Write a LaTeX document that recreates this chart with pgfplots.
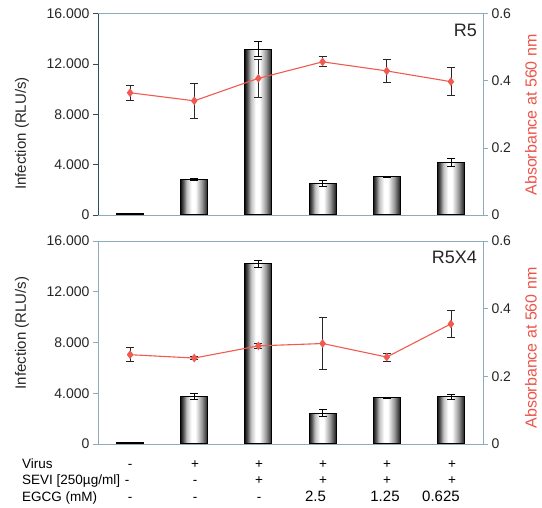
\documentclass[border=0pt]{standalone}
\usepackage{pgfplots}
\pgfplotsset{compat=1.18}
\usepackage{fontspec}
\setmainfont{Liberation Sans}
\definecolor{linered}{RGB}{240,90,80}
\definecolor{framecol}{RGB}{140,172,188}
\definecolor{darkaxis}{RGB}{40,80,95}
\definecolor{labred}{RGB}{235,85,75}
\pgfdeclarehorizontalshading{cyl}{100bp}{color(0bp)=(black!92); color(25bp)=(black!92); color(30bp)=(black!65); color(36bp)=(black!25); color(45bp)=(white); color(52bp)=(white); color(64bp)=(black!40); color(75bp)=(black!90); color(100bp)=(black!90)}
\newcommand{\tf}{\fontsize{14}{16}\selectfont}
\newcommand{\rf}{\fontsize{13.5}{16}\selectfont}
\pgfplotsset{
  baraxis/.style={
    scale only axis, width=385pt,
    xmin=-0.5, xmax=5.5, ymin=0, ymax=16000,
    axis x line*=bottom, axis y line*=left,
    axis line style={framecol, line width=0.8pt},
    xtick=\empty, minor xtick={0.5,1.5,2.5,3.5,4.5},
    ytick={0,4000,8000,12000,16000},
    yticklabels={0,4.000,8.000,12.000,16.000},
    scaled y ticks=false,
    tick align=outside, major tick length=5pt, minor tick length=5pt,
    tick style={framecol, line width=0.6pt},
    ticklabel style={font=\tf, text=black!85},
    /pgf/number format/assume math mode=true,
    clip=false,
  },
  linaxis/.style={
    scale only axis, width=385pt,
    xmin=-0.5, xmax=5.5, ymin=0, ymax=0.6,
    axis y line*=right, axis x line*=top,
    xtick=\empty,
    ytick={0,0.2,0.4,0.6}, yticklabels={0,0.2,0.4,0.6},
    scaled y ticks=false,
    axis line style={framecol, line width=0.8pt},
    tick align=outside, major tick length=5pt,
    tick style={framecol, line width=0.6pt},
    ticklabel style={font=\tf, text=black!85},
    /pgf/number format/assume math mode=true,
    clip=false,
  },
  barplot/.style={ybar, bar width=27pt, bar shift=0pt, draw=black, line width=1pt, shading=cyl,
     error bars/.cd, y dir=both, y explicit,
     error bar style={black, line width=0.8pt},
     error mark options={rotate=90, black, line width=0.8pt, mark size=4pt}},
  lineplot/.style={linered, line width=1.1pt, mark=diamond*, mark size=3.5pt,
     mark options={fill=linered, draw=linered},
     error bars/.cd, y dir=both, y explicit,
     error bar style={black!85, line width=0.8pt},
     error mark options={rotate=90, black!85, line width=0.8pt, mark size=4pt}},
}
\begin{document}
\begin{tikzpicture}[x=1pt,y=1pt]
\path[use as bounding box] (0,0) rectangle (542,-508);
% ---------- top panel (R5) ----------
\begin{axis}[baraxis, at={(98pt,-215pt)}, anchor=south west, height=201.5pt,
  y axis line style={darkaxis}, ytick style={darkaxis}]
\addplot[barplot] coordinates {(0,120) +- (0,0)};
\addplot[barplot] coordinates {(1,2800) +- (0,80)};
\addplot[barplot] coordinates {(2,13180) +- (0,620)};
\addplot[barplot] coordinates {(3,2520) +- (0,250)};
\addplot[barplot] coordinates {(4,3050) +- (0,50)};
\addplot[barplot] coordinates {(5,4150) +- (0,330)};
\end{axis}
\begin{axis}[linaxis, at={(98pt,-215pt)}, anchor=south west, height=201.5pt]
\addplot[lineplot] coordinates {
 (0,0.364) +- (0,0.022)
 (1,0.340) +- (0,0.053)
 (2,0.407) +- (0,0.057)
 (3,0.456) +- (0,0.015)
 (4,0.429) +- (0,0.034)
 (5,0.397) +- (0,0.042)
};
\end{axis}
% ---------- bottom panel (R5X4) ----------
\begin{axis}[baraxis, at={(98pt,-444pt)}, anchor=south west, height=203pt]
\addplot[barplot] coordinates {(0,120) +- (0,0)};
\addplot[barplot] coordinates {(1,3746) +- (0,250)};
\addplot[barplot] coordinates {(2,14190) +- (0,300)};
\addplot[barplot] coordinates {(3,2440) +- (0,260)};
\addplot[barplot] coordinates {(4,3645) +- (0,30)};
\addplot[barplot] coordinates {(5,3746) +- (0,200)};
\end{axis}
\begin{axis}[linaxis, at={(98pt,-444pt)}, anchor=south west, height=203pt]
\addplot[lineplot] coordinates {
 (0,0.264) +- (0,0.021)
 (1,0.254) +- (0,0.004)
 (2,0.290) +- (0,0.006)
 (3,0.297) +- (0,0.076)
 (4,0.257) +- (0,0.012)
 (5,0.355) +- (0,0.040)
};
\end{axis}
% ---------- labels ----------
\node[rotate=90, font=\fontsize{15}{18}\selectfont, text=black!85] at (22,-133.5) {Infection (RLU/s)};
\node[rotate=90, font=\fontsize{15}{18}\selectfont, text=black!85] at (22,-333) {Infection (RLU/s)};
\node[rotate=90, font=\fontsize{16}{18}\selectfont, text=labred] at (531,-115) {Absorbance at 560 nm};
\node[rotate=90, font=\fontsize{16}{18}\selectfont, text=labred] at (531,-348) {Absorbance at 560 nm};
\node[anchor=base east, font=\fontsize{18}{20}\selectfont, text=black!85, inner sep=0pt] at (477,-37) {R5};
\node[anchor=base east, font=\fontsize{18}{20}\selectfont, text=black!85, inner sep=0pt] at (477,-264) {R5X4};
% ---------- table ----------
\node[anchor=base west, font=\rf, inner sep=0pt] at (22,-468) {Virus};
\node[anchor=base west, font=\rf, inner sep=0pt] at (22,-484.7) {SEVI [250µg/ml]};
\node[anchor=base west, font=\rf, inner sep=0pt] at (22,-501.7) {EGCG (mM)};
\foreach \xx/\t in {130/-,195/+,259/+,323/+,387/+,452/+}
  \node[anchor=base, font=\rf, inner sep=0pt] at (\xx,-468) {\t};
\foreach \xx/\t in {127/-,195/-,259/+,323/+,387/+,452/+}
  \node[anchor=base, font=\rf, inner sep=0pt] at (\xx,-484.7) {\t};
\foreach \xx/\t in {130/-,195/-,259/-}
  \node[anchor=base, font=\rf, inner sep=0pt] at (\xx,-501.7) {\t};
\foreach \xx/\t in {315.5/2.5,385/1.25,441/0.625}
  \node[anchor=base, font=\fontsize{15}{17}\selectfont, inner sep=0pt] at (\xx,-501.7) {\t};
\end{tikzpicture}
\end{document}
